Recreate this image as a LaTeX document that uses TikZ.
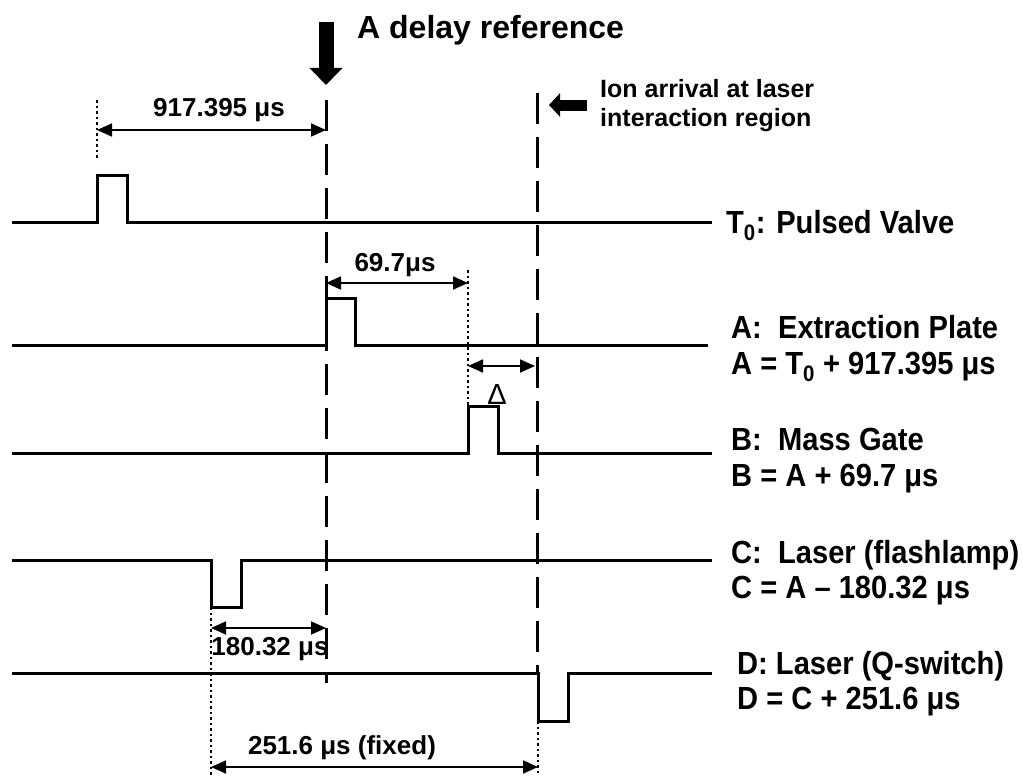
\documentclass[tikz,border=0pt]{standalone}
\usepackage{fontspec}
\setmainfont{Liberation Sans}
\newfontfamily\narrowfont[FakeStretch=0.91]{Liberation Sans}
\usetikzlibrary{arrows.meta, positioning}

\tikzset{
  wave/.style={line width=3pt, line join=miter},
  refline/.style={line width=3pt, dash pattern=on 31pt off 13pt},
  guide/.style={line width=2.5pt, dash pattern=on 2.5pt off 3pt},
  span/.style={line width=1.8pt, {Triangle[length=15pt,width=13pt]}-{Triangle[length=15pt,width=13pt]}},
  lbl/.style={font=\narrowfont\bfseries\fontsize{32}{35}\selectfont, anchor=base west, inner sep=0pt},
  note/.style={font=\bfseries\fontsize{26}{29}\selectfont, inner sep=0pt}
}

\begin{document}
\begin{tikzpicture}[x=1pt, y=-1pt]
\useasboundingbox (0,0) rectangle (1023,776);

% timing references
\coordinate (refTop) at (326,100);
\coordinate (refBot) at (326,683);
\coordinate (ionTop) at (537,93);
\coordinate (ionBot) at (537,673);
\draw[refline] (refTop) -- (refBot);
\draw[refline] (ionTop) -- (ionBot);

% pulse trains
\draw[wave] (12,222) -- (97,222) -- (97,175) -- (127,175) -- (127,222) -- (712,222);
\draw[wave] (12,345) -- (326,345) -- (326,298) -- (355,298) -- (355,345) -- (708,345);
\draw[wave] (12,453) -- (468,453) -- (468,406) -- (498,406) -- (498,453) -- (712,453);
\draw[wave] (12,560) -- (211,560) -- (211,607) -- (241,607) -- (241,560) -- (712,560);
\draw[wave] (12,673) -- (538,673) -- (538,721) -- (568,721) -- (568,673) -- (712,673);

% dotted guides
\coordinate (gT0a) at (97,100);   \coordinate (gT0b) at (97,160);
\coordinate (gBa) at (468,270);   \coordinate (gBb) at (468,406);
\coordinate (gCa) at (211,607);   \coordinate (gCb) at (211,776);
\coordinate (gDa) at (538,721);   \coordinate (gDb) at (538,776);
\draw[guide] (gT0a) -- (gT0b);
\draw[guide] (gBa) -- (gBb);
\draw[guide] (gCa) -- (gCb);
\draw[guide] (gDa) -- (gDb);

% delay spans
\coordinate (s1a) at (97,130);  \coordinate (s1b) at (326,130);
\coordinate (s2a) at (326,283); \coordinate (s2b) at (468,283);
\coordinate (s3a) at (468,366); \coordinate (s3b) at (535,366);
\coordinate (s4a) at (211,628); \coordinate (s4b) at (326,628);
\coordinate (s5a) at (211,767); \coordinate (s5b) at (538,767);
\draw[span] (s1a) -- (s1b);
\draw[span] (s2a) -- (s2b);
\draw[span] (s3a) -- (s3b);
\draw[span] (s4a) -- (s4b);
\draw[span] (s5a) -- (s5b);
\node[note] (d1) at (219,110) {917.395 μs};
\node[note] (d2) at (395,265) {69.7μs};
\node[inner sep=0pt, anchor=base, font=\fontsize{29}{30}\selectfont] (d3) at (497,404) {Δ};
\node[note] (d4) at (270,649) {180.32 μs};
\node[note] (d5) at (342,748) {251.6 μs (fixed)};

% big pointers
\coordinate (refArrA) at (326,22);  \coordinate (refArrB) at (326,85);
\coordinate (ionArrA) at (587,105); \coordinate (ionArrB) at (549,105);
\draw[line width=15pt, -{Triangle[length=17pt,width=32pt]}] (refArrA) -- (refArrB);
\draw[line width=11pt, -{Triangle[length=11pt,width=23pt]}] (ionArrA) -- (ionArrB);
\node[lbl, font=\bfseries\fontsize{32}{36}\selectfont] (refTxt) at (357,39) {A delay reference};
\node[note, anchor=base west, font=\bfseries\fontsize{25}{29}\selectfont] (ion1) at (600,97) {Ion arrival at laser};
\node[note, anchor=base west, font=\bfseries\fontsize{25}{29}\selectfont] (ion2) at (600,126) {interaction region};

% channel labels
\node[lbl] (labT) at (726,233) {T\textsubscript{0}: Pulsed Valve};
\node[lbl] (labA) at (731,338) {A:\ \ Extraction Plate};
\node[lbl] (eqA) at (731,374) {A = T\textsubscript{0} + 917.395 μs};
\node[lbl] (labB) at (731,450) {B:\ \ Mass Gate};
\node[lbl] (eqB) at (731,486) {B = A + 69.7 μs};
\node[lbl] (labC) at (731,563) {C:\ \ Laser (flashlamp)};
\node[lbl] (eqC) at (731,598) {C = A – 180.32 μs};
\node[lbl] (labD) at (737,674) {D: Laser (Q-switch)};
\node[lbl] (eqD) at (737,709) {D = C + 251.6 μs};
\end{tikzpicture}
\end{document}
